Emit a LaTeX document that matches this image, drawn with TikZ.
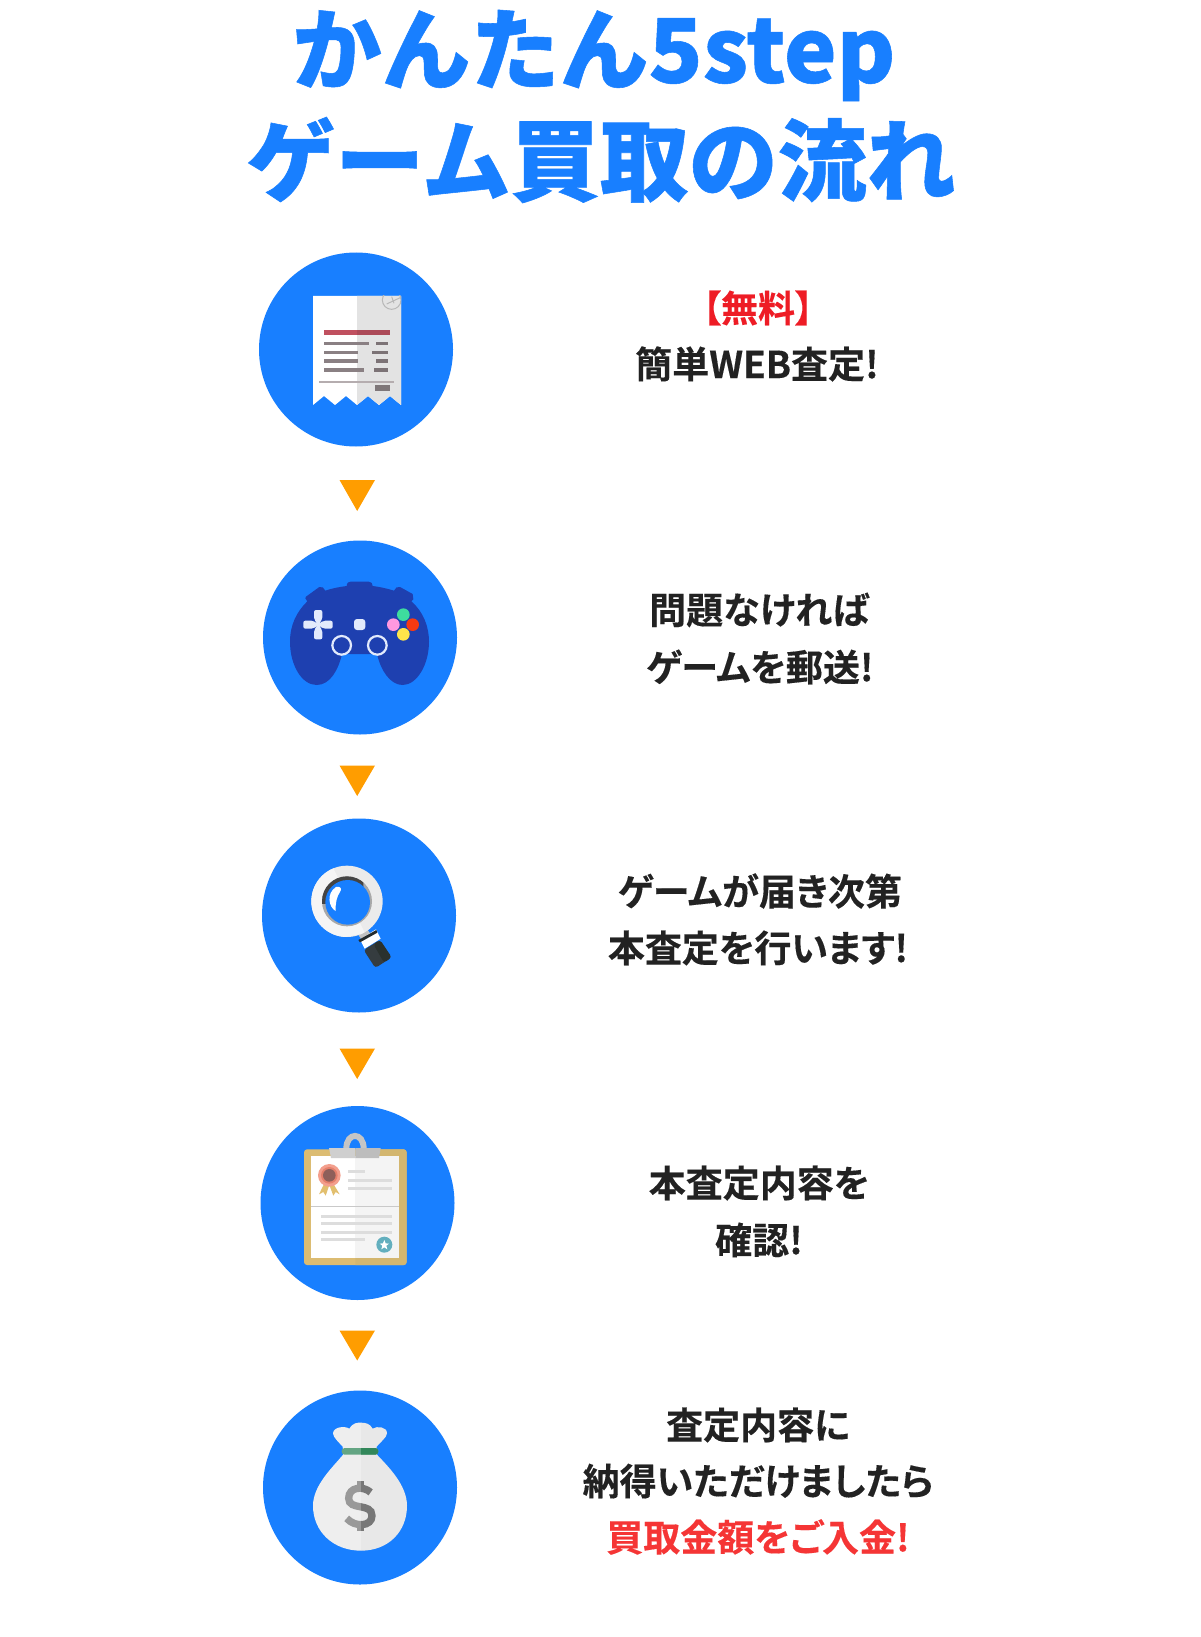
\documentclass[tikz,border=0pt]{standalone}
\usepackage{fontspec}
\newfontfamily\jpb[Renderer=HarfBuzz,RawFeature={+palt},FakeBold=0.3]{Noto Sans CJK JP Bold}
\newfontfamily\jpk[Renderer=HarfBuzz,FakeBold=0.6]{Noto Sans CJK JP Black}
\definecolor{bluec}{HTML}{187FFF}
\definecolor{ink}{HTML}{222222}
\definecolor{redone}{HTML}{EE1C25}
\definecolor{redtwo}{HTML}{F53535}
\definecolor{orangetri}{HTML}{FF9D00}
\definecolor{padb}{HTML}{1E40B0}
\definecolor{barg}{HTML}{8A8083}
\tikzset{
  x=1pt,y=-1pt,
  hx/.code={\definecolor{tmpcol}{HTML}{#1}\pgfkeysalso{/tikz/color=tmpcol}},
  disc/.style={circle,fill=bluec,draw=none,minimum size=194pt,inner sep=0pt},
  ttl/.style={text=bluec,font=\jpk\fontsize{89}{89}\selectfont,inner sep=0pt},
  body/.style={text=ink,font=\jpb\fontsize{37}{37}\selectfont,inner sep=0pt},
  icon/.style={x=1pt/3,y=-1pt/3}
}
\begin{document}
\begin{tikzpicture}
\useasboundingbox (0,0) rectangle (1200,1637);
\fill[white] (0,0) rectangle (1200,1637);
% title
\node[ttl] (t1) at (594,55.5) {かんたん5step};
\node[ttl] (t2) at (601,160) {ゲーム買取の流れ};
% discs
\node[disc] (d1) at (356,349.5) {};
\node[disc] (d2) at (360,637.5) {};
\node[disc] (d3) at (359,915.5) {};
\node[disc] (d4) at (357.5,1203) {};
\node[disc] (d5) at (360,1487.5) {};
% triangles
\fill[orangetri] (339.5,480) -- (375,480) -- (357.2,511) -- cycle;
\fill[orangetri] (339.5,765.5) -- (375,765.5) -- (357.2,796) -- cycle;
\fill[orangetri] (339.5,1048.5) -- (375,1048.5) -- (357.2,1079) -- cycle;
\fill[orangetri] (339.5,1330.5) -- (375,1330.5) -- (357.2,1360.5) -- cycle;
% receipt
\begin{scope}[shift={(240,240)},icon]
\fill[white] (219,168) -- (483,168) -- (483,495) -- (450,468) -- (417,495) -- (384,468) -- (351,495) -- (318,468) -- (285,495) -- (252,468) -- (219,495) -- cycle;
\fill[black!11] (351,168) -- (483,168) -- (483,495) -- (450,468) -- (417,495) -- (384,468) -- (351,495) -- cycle;
\begin{scope}
\clip (351,168) rectangle (483,240);
\draw[black!28,line width=1pt] (455,180) circle (28);
\draw[black!28,line width=1pt] (440,192) -- (483,172) (455,170) -- (462,190);
\end{scope}
\fill[hx=C0505F] (253,270) rectangle (351,285);
\fill[hx=AC4A58] (351,270) rectangle (449,285);
\foreach \a/\b/\c/\d/\y in {253/388/409/445/305,253/355/396/445/332,253/355/409/445/358,253/371/403/445/384}{
  \fill[barg] (\a,\y) rectangle (\b,\y+11);
  \fill[barg!90!black] (\c,\y) rectangle (\d,\y+11);
}
\fill[hx=B5ADAF] (238,424) rectangle (463,428);
\fill[hx=7F7779] (406,436) rectangle (449,453);
\end{scope}
% gamepad
\begin{scope}[shift={(250,530)},icon]
\fill[padb] (168,200) -- (208,171) .. controls (216,167) and (222,175) .. (226,182)
  .. controls (245,175) and (268,171) .. (290,168) .. controls (291,158) and (295,155) .. (302,155)
  -- (356,155) .. controls (364,155) and (368,160) .. (368,168)
  .. controls (392,171) and (412,176) .. (432,182) .. controls (436,175) and (442,167) .. (450,171)
  -- (488,192) -- (490,208) -- (484,214)
  .. controls (520,245) and (537,290) .. (537,335)
  .. controls (537,405) and (500,465) .. (458,465)
  .. controls (420,465) and (392,420) .. (381,372)
  -- (276,372)
  .. controls (265,420) and (240,465) .. (200,465)
  .. controls (155,465) and (120,405) .. (120,335)
  .. controls (120,285) and (140,245) .. (172,214) -- (166,205) -- cycle;
\fill[hx=E2EAFC,rounded corners=2pt] (192,240) -- (217,240) -- (217,268) -- (206,282) -- (220,272) -- (248,272) -- (248,296) -- (220,296) -- (206,286) -- (217,300) -- (217,328) -- (192,328) -- (192,300) -- (203,286) -- (190,296) -- (160,296) -- (160,272) -- (190,272) -- (203,282) -- (192,268) -- cycle;
\fill[hx=E2EAFC,rounded corners=3pt] (312,267) rectangle (346,300);
\draw[hx=E2EAFC,line width=2.2pt] (275,346) circle (28) (382,346) circle (28);
\fill[hx=3EDC9E] (460,254) circle (19);
\fill[hx=FF98E0] (430,284) circle (19);
\fill[hx=F63A12] (488,284) circle (19);
\fill[hx=FFE54A] (460,313) circle (19);
\end{scope}
% magnifier
\begin{scope}[shift={(250,810)},icon]
\fill[hx=C2C2C2] (326,376) -- (352,358) -- (367,380) -- (341,398) -- cycle;
\fill[white] (330,388) -- (378,358) -- (392,386) -- (344,416) -- cycle;
\fill[hx=242B2C] (325,390) -- (379,360) -- (382,368) -- (330,397) -- cycle;
\fill[hx=353C3F,rounded corners=3pt] (341,420) -- (390,390) -- (425,442) -- (376,474) -- cycle;
\fill[hx=2A312E,rounded corners=3pt] (370,402) -- (390,390) -- (425,442) -- (402,458) -- cycle;
\fill[hx=EBEBEB] (291,274) circle (107);
\begin{scope}
\clip (183,160) -- (243,160) -- (345,370) -- (183,400) -- cycle;
\fill[hx=F5F5F5] (291,274) circle (107);
\end{scope}
\fill[hx=A8A8A8] (291,274) circle (75);
\begin{scope}
\clip (200,180) rectangle (340,280);
\fill[hx=444444] (291,274) circle (75);
\end{scope}
\fill[bluec] (293,277) circle (67);
\fill[white] (258,231) .. controls (272,228) and (277,236) .. (270,246) .. controls (260,260) and (256,280) .. (257,303) .. controls (236,292) and (228,250) .. (258,231) -- cycle;
\end{scope}
% clipboard
\begin{scope}[shift={(250,1100)},icon]
\draw[hx=C5C5C5,line width=6pt] (289,146) .. controls (289,95) and (341,95) .. (341,146);
\fill[hx=DCBC72,rounded corners=3pt] (162,148) rectangle (470,495);
\begin{scope}
\clip (316,140) rectangle (480,500);
\fill[hx=D3B66F,rounded corners=3pt] (162,148) rectangle (470,495);
\end{scope}
\fill[white] (182,167) rectangle (316,473);
\fill[hx=F4F4F4] (316,167) rectangle (447,473);
\fill[hx=CFCFCF] (237,144) -- (316,144) -- (316,174) -- (243,174) -- cycle;
\fill[hx=BDBDBD] (316,144) -- (392,144) -- (387,174) -- (316,174) -- cycle;
\fill[hx=C9C9C9] (182,318) rectangle (447,322);
\foreach \a/\b/\y in {295/344/210,295/426/236,295/426/262,214/426/345,214/426/366,214/426/392,214/345/414}{
  \fill[hx=DDDDDD] (\a,\y) rectangle (\b,\y+9);
}
\fill[hx=E2BF6E] (224,248) -- (207,283) -- (220,276) -- (227,287) -- (238,255) -- cycle;
\fill[hx=E2BF6E] (248,248) -- (269,283) -- (257,276) -- (250,287) -- (238,255) -- cycle;
\fill[hx=F39F8D] (238,226) circle (34);
\fill[hx=E5806C] (238,226) circle (25);
\fill[hx=8E5F5A] (238,226) circle (19);
\fill[hx=63AFBE] (403,434) circle (24);
\fill[white] (403,420) -- (407,430) -- (417,431) -- (409,437) -- (412,448) -- (403,442) -- (394,448) -- (397,437) -- (389,431) -- (399,430) -- cycle;
\end{scope}
% money bag
\begin{scope}[shift={(250,1385)},icon]
\fill[hx=EEEEEE] (333,497) .. controls (250,497) and (189,440) .. (189,362)
  .. controls (189,300) and (250,245) .. (280,208) -- (278,185)
  .. controls (265,170) and (250,158) .. (249,145)
  .. controls (250,125) and (285,122) .. (298,131)
  .. controls (310,112) and (322,113) .. (333,113) -- cycle;
\fill[hx=E8E8E8] (333,113) .. controls (345,113) and (360,115) .. (368,131)
  .. controls (380,122) and (412,125) .. (411,145)
  .. controls (410,158) and (392,170) .. (380,185) -- (380,208)
  .. controls (415,245) and (471,300) .. (471,362)
  .. controls (471,440) and (415,497) .. (333,497) -- cycle;
\fill[hx=64A583,rounded corners=3pt] (275,189) rectangle (385,209);
\begin{scope}
\clip (333,180) rectangle (390,215);
\fill[hx=32875A,rounded corners=3pt] (275,189) rectangle (385,209);
\end{scope}
\begin{scope}
\clip (270,280) rectangle (333,440);
\draw[hx=999999,line width=7.3pt] (362,322) .. controls (340,302) and (296,305) .. (296,340) .. controls (296,378) and (366,352) .. (366,392) .. controls (366,425) and (315,428) .. (290,400);
\fill[hx=999999] (320,288) rectangle (333,312);
\fill[hx=999999] (320,412) rectangle (333,437);
\end{scope}
\begin{scope}
\clip (333,280) rectangle (390,440);
\draw[hx=777777,line width=7.3pt] (362,322) .. controls (340,302) and (296,305) .. (296,340) .. controls (296,378) and (366,352) .. (366,392) .. controls (366,425) and (315,428) .. (290,400);
\fill[hx=777777] (333,288) rectangle (341,312);
\fill[hx=777777] (333,412) rectangle (341,437);
\end{scope}
\end{scope}
% texts
\node[body,text=redone] (a1) at (758,308) {【無料】};
\node[body] (a2) at (757,364) {簡単WEB査定!};
\node[body] (b1) at (759,610) {問題なければ};
\node[body] (b2) at (760,667) {ゲームを郵送!};
\node[body] (c1) at (760,891) {ゲームが届き次第};
\node[body] (c2) at (758,948) {本査定を行います!};
\node[body] (e1) at (759,1183) {本査定内容を};
\node[body] (e2) at (759,1240) {確認!};
\node[body] (f1) at (758,1425) {査定内容に};
\node[body] (f2) at (758,1481) {納得いただけましたら};
\node[body,text=redtwo] (f3) at (758,1537) {買取金額をご入金!};
\end{tikzpicture}
\end{document}
